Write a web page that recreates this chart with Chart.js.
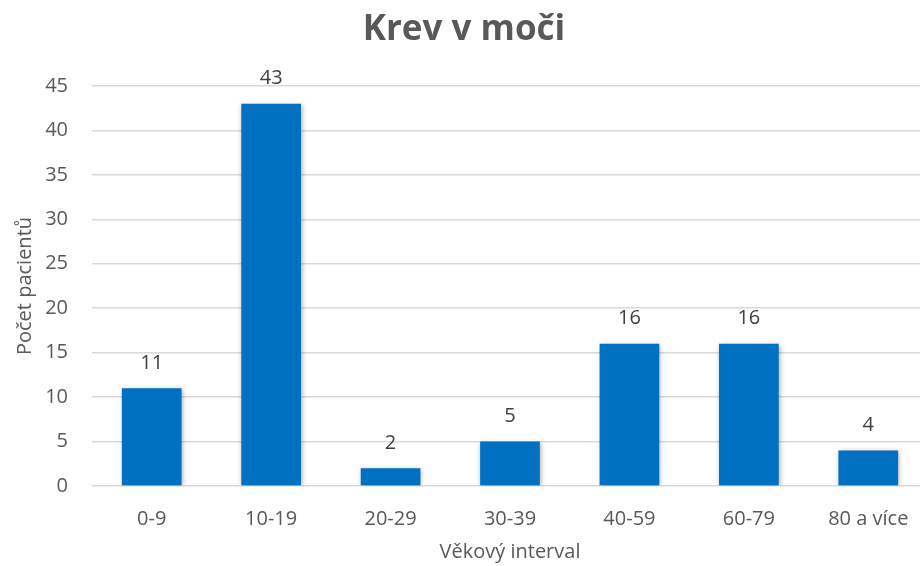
<!DOCTYPE html>
<html>
<head>
<meta charset="utf-8">
<script src="https://cdn.jsdelivr.net/npm/chart.js@4/dist/chart.umd.min.js"></script>
<style>
  html, body { margin: 0; padding: 0; background: #fff; overflow: hidden; width: 920px; height: 566px; }
  #graf { display: block; }
</style>
</head>
<body>
<canvas id="graf" width="928" height="566"></canvas>
<script>
const kategorie = ["0-9", "10-19", "20-29", "30-39", "40-59", "60-79", "80 a více"];
const pocty = [11, 43, 2, 5, 16, 16, 4];

const pismo = "'Open Sans', 'Noto Sans', sans-serif";

// popisky nad sloupci
const popisky = {
  id: "popisky",
  afterDatasetsDraw(chart) {
    const ctx = chart.ctx;
    const meta = chart.getDatasetMeta(0);
    ctx.save();
    ctx.font = "20px " + pismo;
    ctx.fillStyle = "#404040";
    ctx.textAlign = "center";
    ctx.textBaseline = "middle";
    meta.data.forEach((bar, i) => {
      ctx.fillText(String(pocty[i]), bar.x, bar.y - 25);
    });
    ctx.restore();
  }
};

// jemny stin pod sloupci
const stin = {
  id: "stin",
  beforeDatasetsDraw(chart) {
    const ctx = chart.ctx;
    ctx.save();
    ctx.shadowColor = "rgba(0,0,0,0.35)";
    ctx.shadowBlur = 5;
    ctx.shadowOffsetX = 1;
    ctx.shadowOffsetY = 1;
  },
  afterDatasetsDraw(chart) {
    chart.ctx.restore();
  }
};

new Chart(document.getElementById("graf").getContext("2d"), {
  type: "bar",
  data: {
    labels: kategorie,
    datasets: [{
      data: pocty,
      backgroundColor: "#0070C0",
      categoryPercentage: 1,
      barPercentage: 0.5
    }]
  },
  options: {
    responsive: false,
    animation: false,
    layout: { padding: 0 },
    plugins: {
      legend: { display: false },
      tooltip: { enabled: false },
      title: {
        display: true,
        text: "Krev v moči",
        color: "#595959",
        font: { family: pismo, size: 35, weight: "bold", lineHeight: 1.2 },
        padding: { top: 9, bottom: 35 }
      }
    },
    scales: {
      x: {
        grid: { display: false },
        border: { display: false },
        ticks: { color: "#595959", font: { family: pismo, size: 20 }, padding: 13 },
        title: {
          display: true,
          text: "Věkový interval",
          color: "#595959",
          font: { family: pismo, size: 20 },
          padding: { top: 4, bottom: 2 }
        },
        afterFit(scale) { scale.height = 80; }
      },
      y: {
        min: 0,
        max: 45,
        ticks: { stepSize: 5, color: "#595959", font: { family: pismo, size: 20 }, padding: 24 },
        grid: { color: "#d9d9d9", lineWidth: 1.5, drawTicks: false },
        border: { display: false },
        title: {
          display: true,
          text: "Počet pacientů",
          color: "#595959",
          font: { family: pismo, size: 20 },
          padding: { top: 13, bottom: 4 }
        },
        afterFit(scale) { scale.width = 92; }
      }
    }
  },
  plugins: [stin, popisky]
});
</script>
</body>
</html>
